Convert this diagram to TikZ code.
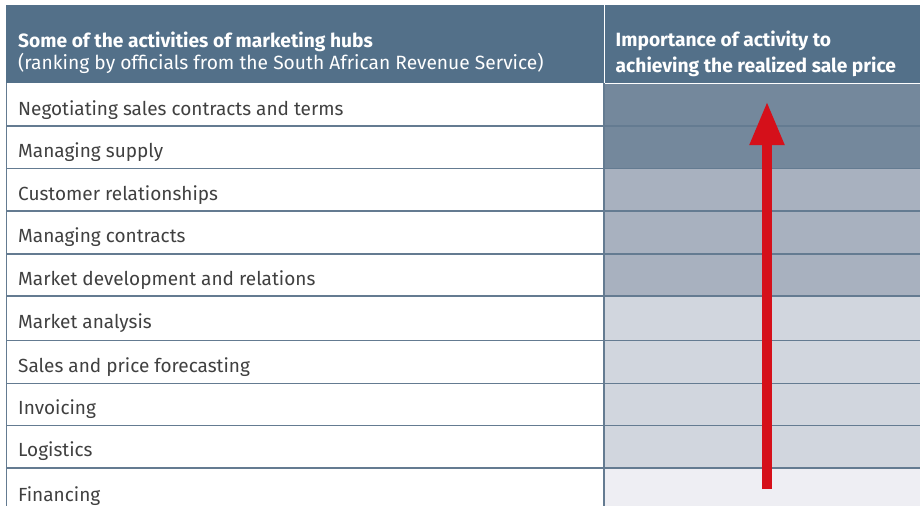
\documentclass[tikz,border=0pt]{standalone}
\usepackage{fontspec}
\setmainfont{Fira Sans}
\usetikzlibrary{arrows.meta}
\definecolor{hdr}{HTML}{537089}
\definecolor{gridc}{HTML}{647B91}
\definecolor{cdark}{HTML}{74889C}
\definecolor{cmed}{HTML}{A8B1BF}
\definecolor{clight}{HTML}{D1D6DE}
\definecolor{cpale}{HTML}{EEEEF3}
\definecolor{txt}{HTML}{404040}
\definecolor{arrowred}{HTML}{D5101A}
\tikzset{
  rowtext/.style={anchor=base west, inner sep=0pt, text=txt, font=\fontsize{19}{22}\selectfont},
  hdrtext/.style={anchor=base west, inner sep=0pt, text=white, font=\fontsize{19.2}{22}\selectfont, align=left},
  gridline/.style={draw=gridc, line width=1.2pt},
}
\begin{document}
\begin{tikzpicture}[x=1pt,y=-1pt]
\useasboundingbox (0,0) rectangle (920,506);
\fill[white] (0,0) rectangle (920,506);
% header
\fill[hdr] (6,5) rectangle (920,83);
\draw[white, line width=1pt] (604,5) -- (604,83);
% right column fills
\fill[cdark] (604,83) rectangle (920,168.5);
\fill[cmed] (604,168.5) rectangle (920,296);
\fill[clight] (604,296) rectangle (920,468);
\fill[cpale] (604,468) rectangle (920,506);
\draw[white, line width=1.2pt] (604,83.6) -- (920,83.6);
% grid
\foreach \y in {126,168.5,211,254,296,340.5,383.3,425.7,468}
  \draw[gridline] (6,\y) -- (920,\y);
\draw[gridline] (6.3,83) -- (6.3,506);
\draw[gridline] (604,83) -- (604,506);
% header texts
\node[hdrtext] (h1a) at (18,47) {\bfseries Some of the activities of marketing hubs};
\node[hdrtext] (h1b) at (18,69.5) {(ranking by officials from the South African Revenue Service)};
\node[hdrtext] (h2a) at (615.5,46) {\bfseries Importance of activity to};
\node[hdrtext] (h2b) at (615.5,72) {\bfseries achieving the realized sale price};
% rows
\node[rowtext] (r1) at (18,115) {Negotiating sales contracts and terms};
\node[rowtext] (r2) at (18,157.5) {Managing supply};
\node[rowtext] (r3) at (18,200) {Customer relationships};
\node[rowtext] (r4) at (18,242.5) {Managing contracts};
\node[rowtext] (r5) at (18,285) {Market development and relations};
\node[rowtext] (r6) at (18,328.5) {Market analysis};
\node[rowtext] (r7) at (18,372) {Sales and price forecasting};
\node[rowtext] (r8) at (18,414) {Invoicing};
\node[rowtext] (r9) at (18,456.5) {Logistics};
\node[rowtext] (r10) at (18,501) {Financing};
% arrow
\coordinate (abot) at (767,489);
\coordinate (atop) at (767,101);
\draw[arrowred, line width=10.5pt, -{Triangle[width=32pt,length=44pt]}] (abot) -- (atop);
\end{tikzpicture}
\end{document}
